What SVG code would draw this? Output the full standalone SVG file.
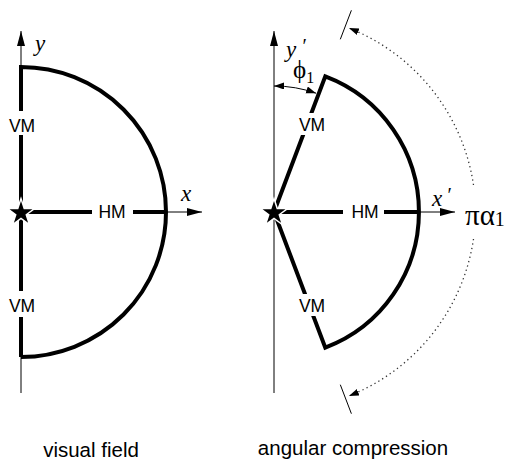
<svg xmlns="http://www.w3.org/2000/svg" width="512" height="468" viewBox="0 0 512 468">
<style>
.axis{stroke:#000;stroke-width:1;fill:none}
.bold{stroke:#000;stroke-width:4;fill:none;stroke-linejoin:miter}
.dot{stroke:#333;stroke-width:1.3;fill:none;stroke-dasharray:1.3 3.2}
.lbl{font-family:"Liberation Sans",Arial,sans-serif;font-size:17.5px;fill:#000;text-anchor:middle}
.cap{font-family:"Liberation Sans",Arial,sans-serif;font-size:20.5px;fill:#000;text-anchor:middle}
.math{font-family:"Liberation Serif","DejaVu Serif",serif;fill:#000}
.it{font-style:italic}
.gap{fill:#fff}
.star{fill:#000;stroke:#fff;stroke-width:3;paint-order:stroke}
</style>
<defs>
<marker id="ax" markerUnits="userSpaceOnUse" markerWidth="16" markerHeight="8" refX="15" refY="4" orient="auto"><path d="M0,0 L15,4 L0,8 Z" fill="#000"/></marker>
<marker id="sm" markerUnits="userSpaceOnUse" markerWidth="11" markerHeight="8" refX="10" refY="3.5" orient="auto-start-reverse"><path d="M0,0 L10,3.5 L0,7 Z" fill="#000"/></marker>
<path id="starshape" d="M0,-12 L2.7,-3.7 L11.4,-3.7 L4.4,1.4 L7.1,9.7 L0,4.6 L-7.1,9.7 L-4.4,1.4 L-11.4,-3.7 L-2.7,-3.7 Z"/>
</defs>

<g id="connectors">
<line class="axis" x1="21" y1="393" x2="21" y2="31" marker-end="url(#ax)"/>
<line class="axis" x1="21" y1="212" x2="202" y2="212" marker-end="url(#ax)"/>
<line class="axis" x1="274" y1="393" x2="274" y2="31" marker-end="url(#ax)"/>
<line class="axis" x1="274" y1="212" x2="455" y2="212" marker-end="url(#ax)"/>
<path class="axis" d="M274,86 A126,126 0 0 1 316.1,93.2" marker-start="url(#sm)" marker-end="url(#sm)"/>
<path class="dot" d="M473.5,185 A201,201 0 0 0 348.9,28" marker-end="url(#sm)"/>
<path class="dot" d="M473.5,239 A201,201 0 0 1 348.9,396" marker-end="url(#sm)"/>
<line class="axis" x1="340.3" y1="39.3" x2="351.4" y2="10.3"/>
<line class="axis" x1="340.3" y1="384.7" x2="351.4" y2="413.7"/>
</g>

<g id="visual-field">
<path class="bold" d="M21,357 L21,67 A145,145 0 0 1 21,357"/>
<path class="bold" d="M21,212 L166,212"/>
<rect class="gap" x="10" y="111" width="24" height="24"/>
<rect class="gap" x="10" y="291" width="24" height="26"/>
<rect class="gap" x="92" y="203" width="41" height="18"/>
<text class="lbl" x="22" y="131.5">VM</text>
<text class="lbl" x="22" y="312">VM</text>
<text class="lbl" x="112" y="218">HM</text>
<use href="#starshape" class="star" x="21" y="213"/>
<text class="math it" x="35" y="51" font-size="23">y</text>
<text class="math it" x="181" y="201" font-size="23">x</text>
</g>

<g id="angular-compression">
<path class="bold" d="M274,212 L325.3,76.4 A145,145 0 0 1 325.3,347.6 Z"/>
<path class="bold" d="M274,212 L419,212"/>
<rect class="gap" x="297" y="113" width="29" height="22"/>
<rect class="gap" x="297" y="294" width="29" height="22"/>
<rect class="gap" x="343" y="203" width="41" height="18"/>
<text class="lbl" x="312" y="131">VM</text>
<text class="lbl" x="312" y="312">VM</text>
<text class="lbl" x="365" y="218">HM</text>
<use href="#starshape" class="star" x="274" y="213"/>
<text class="math it" x="286" y="57" font-size="23">y</text>
<text class="math" x="302.5" y="53" font-size="20">′</text>
<text class="math it" x="432" y="206" font-size="23">x</text>
<text class="math" x="447.5" y="202" font-size="20">′</text>
<text class="math" x="293" y="78" font-size="25">ϕ<tspan font-size="16" dy="5">1</tspan></text>
<text class="math" x="465" y="225" font-size="29">πα<tspan font-size="20" dy="1">1</tspan></text>
</g>

<g id="captions">
<text class="cap" x="91" y="457">visual field</text>
<text class="cap" x="353" y="455">angular compression</text>
</g>
</svg>
